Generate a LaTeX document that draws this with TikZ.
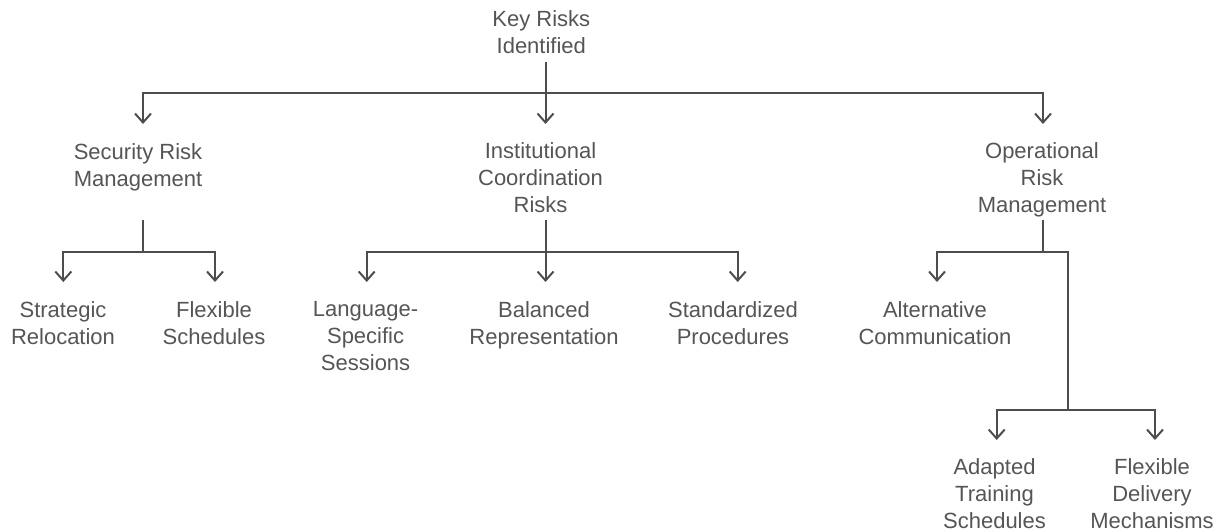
\documentclass[tikz,border=0pt]{standalone}
\usepackage{fontspec}
\setmainfont{Liberation Sans}
\usetikzlibrary{arrows.meta}
\definecolor{linec}{HTML}{4D4D4D}
\definecolor{textc}{HTML}{555555}
\begin{document}
\begin{tikzpicture}[x=1pt,y=-1pt,
  lbl/.style={font=\fontsize{22}{27}\selectfont, text=textc, align=center, inner sep=0pt, anchor=north},
  conn/.style={draw=linec, line width=2pt},
  arr/.style={conn, -{Straight Barb[length=9pt,width=16pt]}}]
\useasboundingbox (0,0) rectangle (1220,531);
% labels
\node[lbl] (root) at (541.3,10.7) {Key Risks\\Identified};
\node[lbl] (sec) at (138,143) {Security Risk\\Management};
\node[lbl] (inst) at (540.5,142.5) {Institutional\\Coordination\\Risks};
\node[lbl] (op) at (1042,142.5) {Operational\\Risk\\Management};
\node[lbl] (strat) at (63,301) {Strategic\\Relocation};
\node[lbl] (flex) at (214,301) {Flexible\\Schedules};
\node[lbl] (lang) at (365.6,301) {Language-\\Specific\\Sessions};
\node[lbl] (bal) at (544,301) {Balanced\\Representation};
\node[lbl] (std) at (733,301) {Standardized\\Procedures};
\node[lbl] (alt) at (935,301) {Alternative\\Communication};
\node[lbl] (adapt) at (994.5,458) {Adapted\\Training\\Schedules};
\node[lbl] (flexdel) at (1152,458) {Flexible\\Delivery\\Mechanisms};
% junctions and ends
\coordinate (rootB) at (545.5,62);
\coordinate (rootJ) at (545.5,93);
\coordinate (secT) at (143,124);
\coordinate (instT) at (545.5,124);
\coordinate (opT) at (1043,124);
\coordinate (secB) at (143,220);
\coordinate (secJ) at (143,252);
\coordinate (instB) at (545.5,220);
\coordinate (instJ) at (545.5,252);
\coordinate (opB) at (1043,220);
\coordinate (opJ) at (1043,252);
\coordinate (opK) at (1068,410);
\coordinate (stratT) at (63.3,282);
\coordinate (flexT) at (215,282);
\coordinate (langT) at (366.7,282);
\coordinate (balT) at (545.5,282);
\coordinate (stdT) at (737.7,282);
\coordinate (altT) at (937,282);
\coordinate (adaptT) at (996.7,440);
\coordinate (flexdelT) at (1155,440);
% connectors
\draw[conn] (rootB) -- (rootJ);
\draw[arr] (rootJ) -| (secT);
\draw[arr] (rootJ) -- (instT);
\draw[arr] (rootJ) -| (opT);
\draw[conn] (secB) -- (secJ);
\draw[arr] (secJ) -| (stratT);
\draw[arr] (secJ) -| (flexT);
\draw[conn] (instB) -- (instJ);
\draw[arr] (instJ) -| (langT);
\draw[arr] (instJ) -- (balT);
\draw[arr] (instJ) -| (stdT);
\draw[conn] (opB) -- (opJ);
\draw[arr] (opJ) -| (altT);
\draw[conn] (opJ) -| (opK);
\draw[arr] (opK) -| (adaptT);
\draw[arr] (opK) -| (flexdelT);
\end{tikzpicture}
\end{document}
